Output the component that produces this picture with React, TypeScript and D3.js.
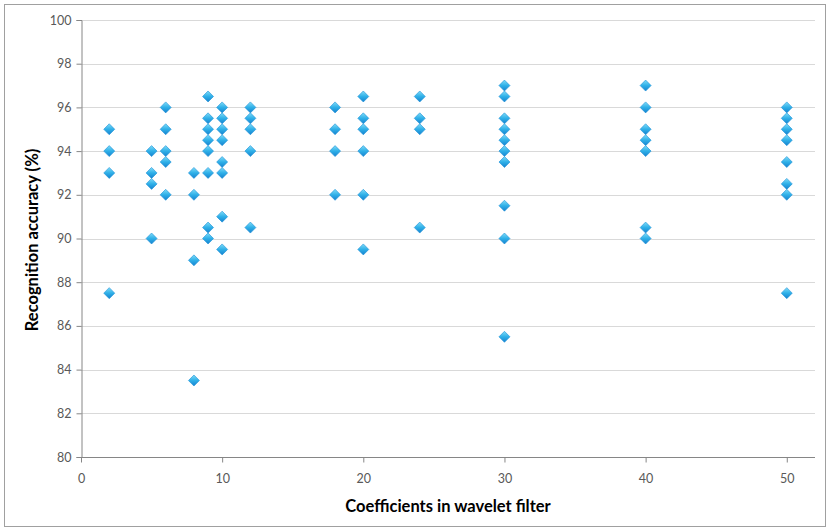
import React, { useEffect, useRef } from 'react';
import * as d3 from 'd3';

// Coefficient count (x) and the recognition accuracies measured for it
const coefficients = [2, 5, 6, 8, 9, 10, 12, 18, 20, 24, 30, 40, 50];
const accuracies: number[][] = [
  [95, 94, 93, 87.5],
  [94, 93, 92.5, 90],
  [96, 95, 94, 93.5, 92],
  [93, 92, 89, 83.5],
  [96.5, 95.5, 95, 94.5, 94, 93, 90.5, 90],
  [96, 95.5, 95, 94.5, 93.5, 93, 91, 89.5],
  [96, 95.5, 95, 94, 90.5],
  [96, 95, 94, 92],
  [96.5, 95.5, 95, 94, 92, 89.5],
  [96.5, 95.5, 95, 90.5],
  [97, 96.5, 95.5, 95, 94.5, 94, 93.5, 91.5, 90, 85.5],
  [97, 96, 95, 94.5, 94, 90.5, 90],
  [96, 95.5, 95, 94.5, 93.5, 92.5, 92, 87.5],
];
const xTicks = [0, 10, 20, 30, 40, 50];
const yTicks = [80, 82, 84, 86, 88, 90, 92, 94, 96, 98, 100];

const W = 829;
const H = 531;
const FONT = 'Lato, "Open Sans", sans-serif';

const App: React.FC = () => {
  const svgRef = useRef<SVGSVGElement>(null);

  useEffect(() => {
    if (!svgRef.current) return;
    const svg = d3.select(svgRef.current);
    svg.selectAll('*').remove();

    const x = d3.scaleLinear().domain([0, 52]).range([81, 815]);
    const y = d3.scaleLinear().domain([80, 100]).range([457, 20]);

    // gradient for the diamond markers
    const defs = svg.append('defs');
    const grad = defs
      .append('linearGradient')
      .attr('id', 'mk')
      .attr('x1', 0).attr('y1', 0).attr('x2', 0).attr('y2', 1);
    grad.append('stop').attr('offset', '0%').attr('stop-color', '#7fdcf8');
    grad.append('stop').attr('offset', '50%').attr('stop-color', '#2fb0e8');
    grad.append('stop').attr('offset', '100%').attr('stop-color', '#1682cf');

    // outer chart border
    svg
      .append('rect')
      .attr('x', 4.5)
      .attr('y', 4.5)
      .attr('width', 821)
      .attr('height', 522)
      .attr('fill', '#fff')
      .attr('stroke', '#a0a0a0');

    // horizontal gridlines
    svg
      .append('g')
      .selectAll('line')
      .data(yTicks.slice(1))
      .enter()
      .append('line')
      .attr('x1', x(0))
      .attr('x2', x(52))
      .attr('y1', d => Math.round(y(d)) + 0.5)
      .attr('y2', d => Math.round(y(d)) + 0.5)
      .attr('stroke', '#d9d9d9')
      .attr('stroke-width', 1.2);

    // y axis
    const yAxis = svg
      .append('g')
      .attr('transform', `translate(${x(0) + 0.5},0)`)
      .call(
        d3.axisLeft(y)
          .tickValues(yTicks)
          .tickSize(5)
          .tickPadding(5)
          .tickFormat(d => String(d))
      );
    yAxis.select('.domain').attr('stroke', '#868686');
    yAxis.selectAll('.tick line').attr('stroke', '#868686');
    yAxis
      .selectAll('.tick text')
      .attr('fill', '#595959')
      .style('font-family', FONT)
      .style('font-size', '12.5px');

    // x axis
    const xAxis = svg
      .append('g')
      .attr('transform', `translate(0,${Math.round(y(80)) + 0.5})`)
      .call(
        d3.axisBottom(x)
          .tickValues(xTicks)
          .tickSize(5)
          .tickPadding(12)
          .tickFormat(d => String(d))
      );
    xAxis.select('.domain').attr('stroke', '#868686').attr('d', `M${x(0)},0H${x(52)}`);
    xAxis.selectAll('.tick line').attr('stroke', '#868686');
    xAxis
      .selectAll('.tick text')
      .attr('fill', '#595959')
      .style('font-family', FONT)
      .style('font-size', '12.5px');

    // points
    const points = coefficients.flatMap((c, i) =>
      accuracies[i].map(a => ({ c, a }))
    );
    svg
      .append('g')
      .selectAll('path')
      .data(points)
      .enter()
      .append('path')
      .attr('transform', d => `translate(${x(d.c)},${y(d.a)})`)
      .attr('d', 'M0,-5.5L5.5,0L0,5.5L-5.5,0Z')
      .attr('fill', 'url(#mk)')
      .attr('stroke', '#1b8fd6')
      .attr('stroke-width', 0.6);

    // axis titles
    svg
      .append('text')
      .attr('x', 448)
      .attr('y', 512)
      .attr('text-anchor', 'middle')
      .style('font-family', FONT)
      .style('font-size', '16.5px')
      .style('font-weight', 'bold')
      .attr('fill', '#000')
      .text('Coefficients in wavelet filter');

    svg
      .append('text')
      .attr('transform', `translate(37.5,240) rotate(-90)`)
      .attr('text-anchor', 'middle')
      .style('font-family', FONT)
      .style('font-size', '16.5px')
      .style('font-weight', 'bold')
      .attr('fill', '#000')
      .text('Recognition accuracy (%)');
  }, []);

  return (
    <svg
      ref={svgRef}
      width={W}
      height={H}
      style={{ position: 'absolute', left: 0, top: 0, background: '#fff' }}
    />
  );
};

export default App;
